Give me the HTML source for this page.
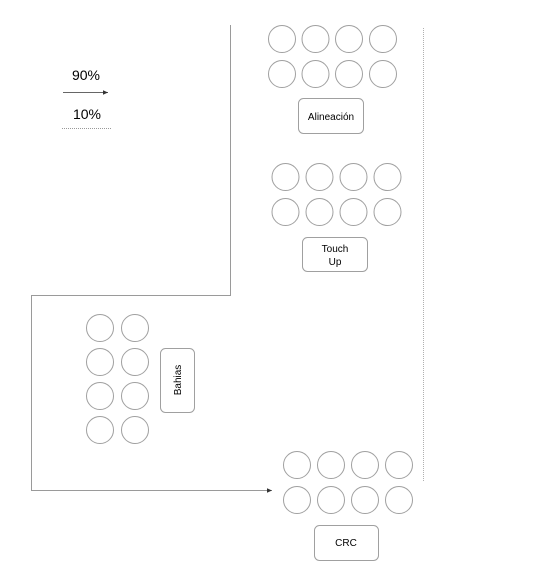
<!DOCTYPE html>
<html><head><meta charset="utf-8"><style>
html,body{margin:0;padding:0;background:#fff;}
svg{display:block;}
text{font-family:"Liberation Sans",Arial,sans-serif;fill:#000;}
</style></head><body>
<svg width="543" height="586" viewBox="0 0 543 586" xmlns="http://www.w3.org/2000/svg">
<defs><marker id="a" markerWidth="6" markerHeight="6" refX="5" refY="3" orient="auto" markerUnits="userSpaceOnUse"><path d="M0,0.8 L5,3 L0,5.2z" fill="#333"/></marker></defs>
<g fill="none" stroke="#a0a0a0" stroke-width="1">
<!-- top group -->
<circle cx="282" cy="39" r="13.5"/><circle cx="315.5" cy="39" r="13.5"/><circle cx="349" cy="39" r="13.5"/><circle cx="383" cy="39" r="13.5"/>
<circle cx="282" cy="74" r="13.5"/><circle cx="315.5" cy="74" r="13.5"/><circle cx="349" cy="74" r="13.5"/><circle cx="383" cy="74" r="13.5"/>
<!-- touch group -->
<circle cx="285.5" cy="177" r="13.5"/><circle cx="319.5" cy="177" r="13.5"/><circle cx="353.5" cy="177" r="13.5"/><circle cx="387.5" cy="177" r="13.5"/>
<circle cx="285.5" cy="212" r="13.5"/><circle cx="319.5" cy="212" r="13.5"/><circle cx="353.5" cy="212" r="13.5"/><circle cx="387.5" cy="212" r="13.5"/>
<!-- CRC group -->
<circle cx="297" cy="465" r="13.5"/><circle cx="331" cy="465" r="13.5"/><circle cx="365" cy="465" r="13.5"/><circle cx="399" cy="465" r="13.5"/>
<circle cx="297" cy="500" r="13.5"/><circle cx="331" cy="500" r="13.5"/><circle cx="365" cy="500" r="13.5"/><circle cx="399" cy="500" r="13.5"/>
<!-- bahias group -->
<circle cx="100" cy="328" r="13.5"/><circle cx="135" cy="328" r="13.5"/>
<circle cx="100" cy="362" r="13.5"/><circle cx="135" cy="362" r="13.5"/>
<circle cx="100" cy="396" r="13.5"/><circle cx="135" cy="396" r="13.5"/>
<circle cx="100" cy="430" r="13.5"/><circle cx="135" cy="430" r="13.5"/>
<!-- boxes -->
<rect x="298.5" y="98.5" width="65" height="35" rx="5"/>
<rect x="302.5" y="237.5" width="65" height="34" rx="5"/>
<rect x="160.5" y="348.5" width="34" height="64" rx="5"/>
<rect x="314.5" y="525.5" width="64" height="35" rx="5"/>
<!-- dotted vertical -->
<line x1="423.5" y1="28" x2="423.5" y2="481" stroke="#b0b0b0" stroke-dasharray="1,1"/>
<!-- legend dotted -->
<line x1="62" y1="128.5" x2="112" y2="128.5" stroke="#999" stroke-dasharray="1,1"/>
</g>
<g fill="none" stroke="#9a9a9a" stroke-width="1">
<polyline points="230.5,25 230.5,295.5 31.5,295.5 31.5,490.5 272,490.5" marker-end="url(#a)"/>
<line x1="63" y1="92.5" x2="108" y2="92.5" stroke="#666" marker-end="url(#a)"/>
</g>
<text x="86" y="80" font-size="14" text-anchor="middle">90%</text>
<text x="87" y="119" font-size="14" text-anchor="middle">10%</text>
<text x="331" y="120" font-size="10" text-anchor="middle">Alineación</text>
<text x="335" y="252" font-size="10" text-anchor="middle">Touch</text>
<text x="335" y="265" font-size="10" text-anchor="middle">Up</text>
<text x="346" y="546" font-size="10" text-anchor="middle">CRC</text>
<text transform="translate(181,380) rotate(-90)" font-size="10" text-anchor="middle">Bahias</text>
</svg>
</body></html>
